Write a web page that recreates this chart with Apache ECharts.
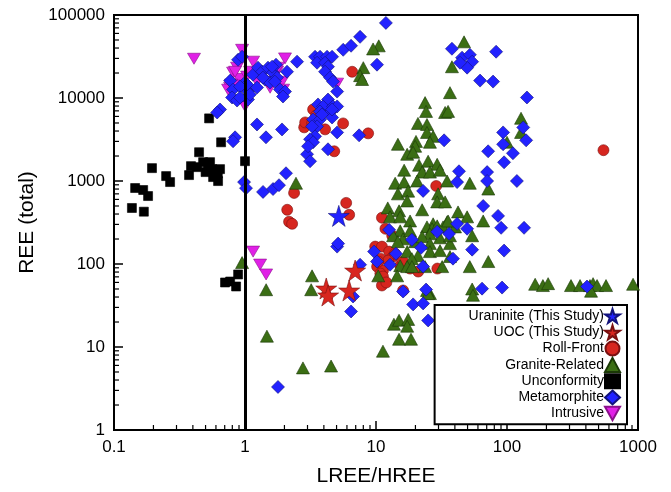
<!DOCTYPE html>
<html>
<head>
<meta charset="utf-8">
<script src="https://cdn.jsdelivr.net/npm/echarts@6/dist/echarts.min.js"></script>
<style>
html,body{margin:0;padding:0;background:#fff;}
#chart{width:671px;height:492px;}
</style>
</head>
<body>
<div id="chart"></div>
<script>
// ---- Data: [LREE/HREE, REE total] ----
var uraninite = [[5.2,380]];
var uoc = [[4.17,50.7],[4.31,41.8],[6.24,48.0],[6.93,83.4]];
var rollFront = [[2.37,718],[2.10,450],[2.17,323],[2.29,305],[2.83,4430],[2.88,5080],[3.26,5000],[3.31,7280],[3.49,6170],[4.09,4190],[4.80,2280],[5.61,4940],[6.58,20700],[8.71,3750],[28.8,871],[545,2350],[5.92,545],[6.24,392],[11.1,361],[11.8,266],[9.86,162],[11.1,162],[12.6,141],[13.5,123],[10.8,116],[10.2,93.1],[11.3,83.4],[10.8,76.7],[11.3,70.6],[11.1,55.1],[15.3,95.7],[16.1,107],[21.0,81.1],[29.4,88.1],[12.4,110],[10.4,107],[14.0,133],[13.3,219],[16.1,48],[12.0,59.9],[18.2,88.1]];
var granite = [[0.95,104],[1.45,49],[1.47,13.5],[2.77,5.6],[3.25,72],[3.2,49],[4.54,5.9],[2.45,940],[11.3,8.9],[13.7,18.8],[15.0,21],[17.6,21.5],[17.3,17.8],[15.0,12.4],[18.5,12.4],[10.4,72],[25.8,44],
[10.5,42500],[9.5,39000],[8.0,23200],[7.56,18600],[7.83,16700],[47,47500],[38,23800],[36.7,11600],[23.7,8800],[24.1,6900],[33.7,6700],[35.5,6900],[128,5700],[128,3850],[100,2930],[20.9,4940],[24.5,4800],[24.5,3850],[27.3,3450],[14.7,2770],[20.2,3000],[19.9,2620],[17.3,2100],[19.2,2220],[25.8,2930],
[16.4,1350],[21.3,1550],[25,1730],[29.3,1590],[22.5,1280],[25.8,1280],[30.8,1350],[34.9,1000],[52,940],[72,800],[14,940],[16.4,970],[20.6,1000],[14.7,700],[17.6,755],[29.8,700],[17.3,575],[29.3,560],[33.7,560],[12.3,474],[15,437],[22.5,450],[42.3,424],[49.6,370],[65.8,330],[27.3,305],[34.9,322],[40.1,280],[30.8,207],[36.7,176],[54.2,219],[12.8,370],[15.3,370],[18.2,330],[24.5,280],[26.8,266],[29.3,288],[32.5,280],[35.5,330],[25.8,231],[15.3,251],[13.5,219],[16.1,201],[18.2,251],[36.7,219],[19.9,186],[22.5,213],[14.7,186],[25.8,176],[17.3,141],[20.9,126],[25.8,141],[30.8,145],[36.7,123],[18.8,116],[15.3,95.5],[17.3,93],[18.8,93],[23.7,93],[32,93],[52,93],[72,107],[14.5,72],[24.5,48],[25,44],[54.2,50],[55,42],
[164,57],[188,55],[206,58],[308,55],[361,55],[430,55],[454,58],[487,55],[570,55],[917,57],[438,47]];
var unconformity = [[0.137,473],[0.145,823],[0.167,779],[0.182,659],[0.169,427],[0.195,1429],[0.25,1146],[0.268,971],[0.374,1178],[0.387,1510],[0.446,2221],[0.43,1469],[0.479,1686],[0.523,1510],[0.561,1390],[0.541,1686],[0.601,1315],[0.645,1390],[0.623,998],[0.571,1115],[0.657,2926],[1.0,1733],[0.532,5680],[0.886,74.8],[0.77,61.5],[0.704,59.9],[0.855,53.6],[0.5,1280],[0.62,1230]];
var metamorphite = [[0.885,28900],[0.95,31400],[0.77,16200],[0.811,12640],[0.797,10140],[0.87,9320],[1.0,15330],[1.054,11960],[1.054,9580],[1.151,19100],[1.257,23200],[1.349,20750],[1.498,23200],[1.637,20200],[1.725,25200],[2.093,20750],[1.421,16650],[1.552,15330],[1.235,13360],[1.755,17600],[1.851,12640],[2.021,11960],[1.951,10420],[2.496,27400],[1.036,14520],[0.917,13730],[0.645,7270],[0.613,6690],[0.917,10140],[1.09,11000],[1.69,15760],[1.37,17600],[1.61,23850],
[0.84,3360],[0.811,3010],[1.235,4800],[1.446,3360],[1.917,4180],[0.984,970],[1.018,820],[1.373,738],[1.637,800],[1.818,890],[2.056,1240],
[3.426,31400],[3.741,31400],[4.23,31400],[4.62,31400],[3.55,26600],[4.085,26600],[4.30,23850],[4.085,20750],[4.461,17600],[4.70,15760],[5.05,11960],[4.30,9580],[3.61,8360],[3.94,7910],[4.70,7910],[5.05,7910],[3.741,6880],[4.461,6690],[3.31,5510],[3.741,5510],[4.62,5820],[3.55,4550],[3.426,3450],[5.05,3850],[3.138,3180],[3.31,2930],[7.43,3550],[5.62,38100],[6.45,42600],[7.56,54600],[11.9,80300],[10.18,25200],[4.30,2410],[2.977,2100],[3.138,1730],[3.03,2620],[3.87,6330],[3.25,4550],[4.62,7270],[5.05,162],[5.14,176],
[38.0,39200],[82.6,36100],[45.4,30600],[52.1,33200],[54.2,27400],[49.6,23200],[43.8,26600],[62.3,16200],[78.3,15760],[142,10140],[133,4420],[93.4,3850],[140,3090],[33.1,3090],[93.4,2770],[71.8,2280],[111,2160],[95.0,1680],[119,1000],[70.5,1280],[70.5,1000],[43.0,1310],[41.6,970],[22.9,760],[65.8,500],[85.5,380],[90.2,273],[135,273],[41.6,305],[49.6,266],[29.3,245],[36.1,231],[18.8,196],[12.6,258],[54.2,149],[95.0,145],[38.7,116],[22.1,157],[14.2,133],[9.67,141],[10.18,107],[12.8,98],[22.9,93],[7.56,98],[16.1,46.6],[24.1,49.2],[64.5,50.5],[91.7,52],[408,53.5],[6.68,40.6],[6.45,26.8],[19.2,32.6],[22.9,33.5],[25.0,20.9],[1.786,3.3]];
var intrusive = [[0.408,29700],[0.95,38100],[1.0,8000],[1.153,27400],[2.02,30000],[1.92,15700],[1.555,13300],[0.811,20200],[0.90,17000],[1.037,18100],[0.77,13300],[0.968,13700],[0.87,23200],[1.259,20200],[1.475,15700],[1.758,20700],[0.743,12600],[1.094,20700],[1.237,15700],[1.056,11900],[1.954,12600],[1.79,23200],[0.84,20700],[0.783,14500],[0.87,14100],[5.05,14900],[1.153,141],[1.304,98.4],[1.449,74.8]];
var boundaryX = 1;

// axis decades and minor-tick multipliers
var xDecades = [0.1, 1, 10, 100];
var yDecades = [1, 10, 100, 1000, 10000];
var minorMult = [2, 3, 4, 5, 6, 7, 8, 9];

var xMinor = [], yMinor = [];
xDecades.forEach(function (d) { minorMult.forEach(function (m) { xMinor.push([+(d * m).toPrecision(3), 1]); }); });
yDecades.forEach(function (d) { minorMult.forEach(function (m) { yMinor.push([0.1, d * m]); }); });

var STAR = 'path://M50,0 L61,35 L98,35 L68,57 L79,91 L50,70 L21,91 L32,57 L2,35 L39,35 Z';
var INV_TRI = 'path://M0,0 L100,0 L50,90 Z';

var chart = echarts.init(document.getElementById('chart'));
var FONT = 'Liberation Sans, Arial, sans-serif';

function sc(name, data, symbol, size, color, border, extra) {
  var s = {
    name: name, type: 'scatter', data: data, symbol: symbol, symbolSize: size,
    itemStyle: {color: color, borderColor: border, borderWidth: 0.6, opacity: 1},
    emphasis: {disabled: true}, animation: false
  };
  if (extra) for (var k in extra) s[k] = extra[k];
  return s;
}

function tickSeries(data, dir) {
  return {
    type: 'custom', data: data, silent: true, animation: false, z: 1,
    encode: {x: 0, y: 1},
    renderItem: function (params, api) {
      var p = api.coord([api.value(0), api.value(1)]);
      var L = 5;
      var shape = dir === 'x' ? {x1: p[0], y1: p[1], x2: p[0], y2: p[1] - L}
                              : {x1: p[0], y1: p[1], x2: p[0] + L, y2: p[1]};
      return {type: 'line', shape: shape, style: {stroke: '#000', lineWidth: 1.2}};
    }
  };
}

function plain(v) { return String(v); }

var option = {
  backgroundColor: '#fff',
  animation: false,
  grid: {left: 114, right: 33, top: 15, bottom: 60, show: true, borderColor: '#000', borderWidth: 2, backgroundColor: 'transparent'},
  xAxis: {
    type: 'log', logBase: 10, min: 0.1, max: 1000,
    name: 'LREE/HREE', nameLocation: 'middle', nameGap: 36,
    nameTextStyle: {fontFamily: FONT, fontSize: 21, color: '#000'},
    axisLine: {show: true, onZero: false, lineStyle: {color: '#000', width: 2}},
    axisTick: {show: true, inside: true, length: 9, lineStyle: {color: '#000', width: 1.5}},
    axisLabel: {fontFamily: FONT, fontSize: 17, color: '#000', margin: 9, formatter: plain},
    splitLine: {show: false}
  },
  yAxis: {
    type: 'log', logBase: 10, min: 1, max: 100000,
    name: 'REE (total)', nameLocation: 'middle', nameGap: 76,
    nameTextStyle: {fontFamily: FONT, fontSize: 21, color: '#000'},
    axisLine: {show: true, onZero: false, lineStyle: {color: '#000', width: 2}},
    axisTick: {show: true, inside: true, length: 9, lineStyle: {color: '#000', width: 1.5}},
    axisLabel: {fontFamily: FONT, fontSize: 17, color: '#000', margin: 9, formatter: plain},
    splitLine: {show: false}
  },
  legend: {
    orient: 'vertical', right: 44, top: 305, align: 'right', z: 20,
    padding: [3, 6, 3, 34], itemGap: 0.3, itemWidth: 15, itemHeight: 14,
    borderColor: '#000', borderWidth: 2, backgroundColor: '#fff',
    textStyle: {fontFamily: FONT, fontSize: 14, color: '#000', padding: [0, -4, 0, 0]},
    selectedMode: false,
    data: ['Uraninite (This Study)', 'UOC (This Study)', 'Roll-Front', 'Granite-Related', 'Unconformity', 'Metamorphite', 'Intrusive']
  },
  series: [
    tickSeries(xMinor, 'x'),
    tickSeries(yMinor, 'y'),
    sc('Intrusive', intrusive, INV_TRI, [13, 11], '#e020e6', '#8a108a'),
    sc('Unconformity', unconformity, 'rect', 9, '#000000', '#000000'),
    sc('Roll-Front', rollFront, 'circle', 11, '#d6261f', '#7a1010'),
    sc('Granite-Related', granite, 'triangle', [13, 12], '#3b6e14', '#1a3806'),
    sc('Metamorphite', metamorphite, 'diamond', [13, 13], '#2222ff', '#12127a', {
      markLine: {silent: true, symbol: ['none', 'none'], label: {show: false},
        lineStyle: {color: '#000', width: 3, type: 'solid'}, data: [{xAxis: boundaryX}], animation: false}
    }),
    sc('UOC (This Study)', uoc, STAR, 21, '#d8261f', '#7a1010'),
    sc('Uraninite (This Study)', uraninite, STAR, 21, '#2222ff', '#12127a')
  ]
};
chart.setOption(option);
</script>
</body>
</html>
